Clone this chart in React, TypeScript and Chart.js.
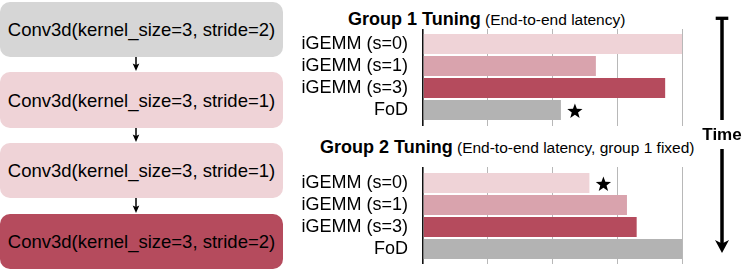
import React, { useEffect, useRef } from 'react';
import { Chart, registerables } from 'chart.js';

Chart.register(...registerables);

// ---------- data ----------
const categories = ['iGEMM (s=0)', 'iGEMM (s=1)', 'iGEMM (s=3)', 'FoD'];
const group1Latency = [4.0, 2.67, 3.74, 2.13];
const group2Latency = [2.57, 3.15, 3.3, 4.0];
const latencyMax = 4;
const group1Title = 'Group 1 Tuning';
const group1Subtitle = '(End-to-end latency)';
const group2Title = 'Group 2 Tuning';
const group2Subtitle = '(End-to-end latency, group 1 fixed)';
const layerLabels = [
  'Conv3d(kernel_size=3, stride=2)',
  'Conv3d(kernel_size=3, stride=1)',
  'Conv3d(kernel_size=3, stride=1)',
  'Conv3d(kernel_size=3, stride=2)',
];
const timeLabel = 'Time';

// ---------- styles ----------
const FONT = "'Liberation Sans', Arial, Helvetica, sans-serif";
const barColors = ['#efd3d7', '#d9a3ad', '#b54b5d', '#b3b3b3'];
const layerColors = ['#d6d6d6', '#efd3d7', '#efd3d7', '#b54b5d'];
const layerBoxes = [
  { top: 2, height: 55 },
  { top: 72, height: 56 },
  { top: 143, height: 55 },
  { top: 214, height: 55 },
];

Chart.defaults.font.family = FONT;

const starPlugin = {
  id: 'bestStar',
  afterDraw(chart: any) {
    const values: number[] = chart.data.datasets[0].data;
    let best = 0;
    values.forEach((v, i) => {
      if (v < values[best]) best = i;
    });
    const bar = chart.getDatasetMeta(0).data[best];
    if (!bar) return;
    const cx = bar.x + 14;
    const cy = bar.y + 1.5;
    const R = 8;
    const r = 3.3;
    const ctx = chart.ctx;
    ctx.save();
    ctx.beginPath();
    for (let k = 0; k < 10; k++) {
      const rad = k % 2 === 0 ? R : r;
      const ang = -Math.PI / 2 + (k * Math.PI) / 5;
      const px = cx + rad * Math.cos(ang);
      const py = cy + rad * Math.sin(ang);
      if (k === 0) ctx.moveTo(px, py);
      else ctx.lineTo(px, py);
    }
    ctx.closePath();
    ctx.fillStyle = '#000';
    ctx.fill();
    ctx.restore();
  },
};

const gridColor = (c: any) => (c.tick && c.tick.value === 0 ? '#111' : 'rgba(0,0,0,0.28)');
const gridWidth = (c: any) => (c.tick && c.tick.value === 0 ? 1.6 : 1);

function makeConfig(values: number[], padTop: number, padBottom: number, extTop: number, extBottom: number): any {
  return {
    type: 'bar',
    data: {
      labels: categories,
      datasets: [
        {
          data: values,
          backgroundColor: barColors,
          borderWidth: 0,
          barPercentage: 20 / 22,
          categoryPercentage: 1,
        },
      ],
    },
    options: {
      indexAxis: 'y',
      responsive: false,
      animation: false,
      layout: { padding: { top: padTop, bottom: padBottom, left: 0, right: 8 } },
      plugins: { legend: { display: false }, tooltip: { enabled: false }, title: { display: false } },
      scales: {
        x: {
          type: 'linear',
          min: 0,
          max: latencyMax,
          z: 1,
          ticks: { display: false, stepSize: 1 },
          grid: {
            color: gridColor,
            lineWidth: gridWidth,
            tickColor: gridColor,
            tickWidth: gridWidth,
            drawTicks: true,
            tickLength: extBottom,
          },
          border: { display: false },
          afterFit: (s: any) => {
            s.height = extBottom;
            s.paddingLeft = 0;
            s.paddingRight = 0;
          },
        },
        x2: {
          axis: 'x',
          type: 'linear',
          position: 'top',
          display: true,
          min: 0,
          max: latencyMax,
          ticks: { display: false, stepSize: 1 },
          grid: {
            drawOnChartArea: false,
            color: gridColor,
            lineWidth: gridWidth,
            tickColor: gridColor,
            tickWidth: gridWidth,
            drawTicks: true,
            tickLength: extTop,
          },
          border: { display: false },
          afterFit: (s: any) => {
            s.height = extTop;
            s.paddingLeft = 0;
            s.paddingRight = 0;
          },
        },
        y: {
          type: 'category',
          grid: { display: false, drawTicks: false },
          border: { display: false },
          ticks: { color: '#000', font: { size: 18, family: FONT }, padding: 15, autoSkip: false },
          afterFit: (s: any) => {
            s.width = 133;
            s.paddingTop = 0;
            s.paddingBottom = 0;
          },
        },
      },
    },
    plugins: [starPlugin],
  };
}

function BarChart(props: { values: number[]; left: number; top: number; width: number; height: number; padTop: number; padBottom: number; extTop: number; extBottom: number }) {
  const ref = useRef<HTMLCanvasElement | null>(null);
  useEffect(() => {
    if (!ref.current) return;
    const chart = new Chart(ref.current, makeConfig(props.values, props.padTop, props.padBottom, props.extTop, props.extBottom));
    return () => chart.destroy();
  }, []);
  return (
    <canvas
      ref={ref}
      width={props.width}
      height={props.height}
      style={{ position: 'absolute', left: props.left, top: props.top, width: props.width, height: props.height }}
    />
  );
}

export default function App() {
  const arrows = layerBoxes.slice(0, -1).map((b, i) => {
    const y1 = b.top + b.height;
    const y2 = layerBoxes[i + 1].top - 1;
    return { y1, y2 };
  });
  return (
    <div
      style={{
        position: 'fixed',
        left: 0,
        top: 0,
        width: 747,
        height: 271,
        background: '#fff',
        overflow: 'hidden',
        fontFamily: FONT,
        color: '#000',
      }}
    >
      {layerLabels.map((t, i) => (
        <div
          key={i}
          style={{
            position: 'absolute',
            left: 0,
            top: layerBoxes[i].top,
            width: 283,
            height: layerBoxes[i].height,
            background: layerColors[i],
            borderRadius: 10,
            display: 'flex',
            alignItems: 'center',
            justifyContent: 'center',
            fontSize: 18.5,
            lineHeight: '19px',
            whiteSpace: 'nowrap',
          }}
        >
          {t}
        </div>
      ))}

      <div style={{ position: 'absolute', left: 348, top: 10, fontSize: 18, lineHeight: '18px', whiteSpace: 'nowrap' }}>
        <span style={{ fontWeight: 'bold' }}>{group1Title}</span>
        <span style={{ fontSize: 15.5 }}> {group1Subtitle}</span>
      </div>
      <div style={{ position: 'absolute', left: 320, top: 138, fontSize: 18, lineHeight: '18px', whiteSpace: 'nowrap' }}>
        <span style={{ fontWeight: 'bold' }}>{group2Title}</span>
        <span style={{ fontSize: 15.5 }}> {group2Subtitle}</span>
      </div>

      <BarChart values={group1Latency} left={290} top={20} width={400} height={112} padTop={9} padBottom={6} extTop={4} extBottom={5} />
      <BarChart values={group2Latency} left={290} top={155} width={400} height={116} padTop={12} padBottom={7} extTop={5} extBottom={4} />

      <svg width={747} height={271} style={{ position: 'absolute', left: 0, top: 0, pointerEvents: 'none' }}>
        {arrows.map((a, i) => (
          <g key={i}>
            <line x1={136} y1={a.y1} x2={136} y2={a.y2 - 5} stroke="#000" strokeWidth={1.5} />
            <polygon
              points={`${132.7},${a.y2 - 7.5} ${136},${a.y2 - 6} ${139.3},${a.y2 - 7.5} ${136},${a.y2}`}
              fill="#000"
            />
          </g>
        ))}
        <line x1={715.7} y1={18.3} x2={728.3} y2={18.3} stroke="#000" strokeWidth={3.3} />
        <line x1={722} y1={17} x2={722} y2={120} stroke="#000" strokeWidth={3.5} />
        <text x={722} y={140} textAnchor="middle" fontFamily={FONT} fontWeight="bold" fontSize={17}>
          {timeLabel}
        </text>
        <line x1={722} y1={149} x2={722} y2={244} stroke="#000" strokeWidth={3.5} />
        <polygon points="715,240 722,243.5 729,240 722,253" fill="#000" />
      </svg>
    </div>
  );
}
